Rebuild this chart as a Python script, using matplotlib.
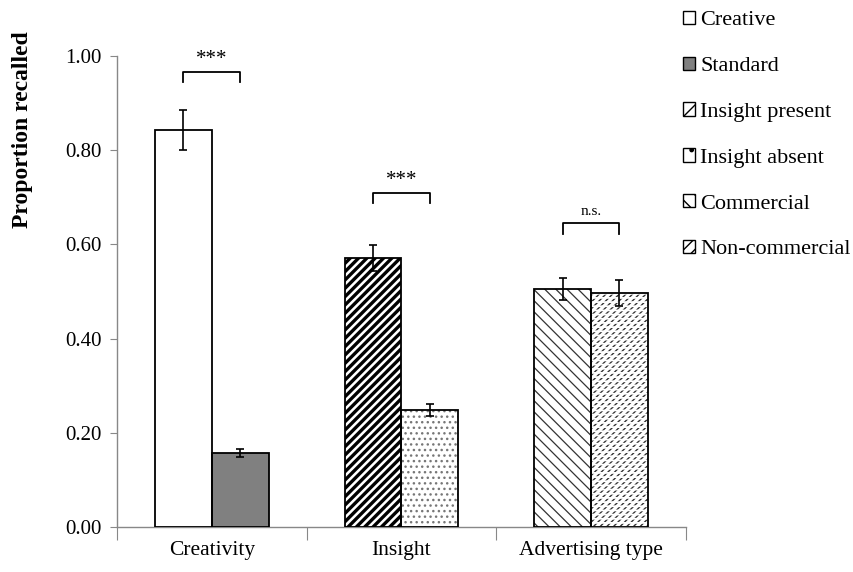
import matplotlib
matplotlib.use("Agg")
import matplotlib.pyplot as plt
from matplotlib.patches import Patch

plt.rcParams["font.family"] = ["Liberation Serif", "DejaVu Serif"]

categories = ["Creativity", "Insight", "Advertising type"]
conditions = ["Creative", "Standard", "Insight present", "Insight absent",
              "Commercial", "Non-commercial"]
means = [0.843, 0.157, 0.571, 0.248, 0.505, 0.497]
errors = [0.042, 0.008, 0.028, 0.012, 0.024, 0.027]
groups = [0, 0, 1, 1, 2, 2]
sig_labels = ["***", "***", "n.s."]
bracket_tops = [0.966, 0.709, 0.645]
y_ticks = [0.0, 0.2, 0.4, 0.6, 0.8, 1.0]

# fill / hatch style per condition: (face, hatch, hatch colour, hatch width, legend hatch)
styles = [
    ("white", "", "black", 1.0, ""),
    ("#808080", "", "black", 1.0, ""),
    ("white", "////", "black", 2.4, "//"),
    ("white", "...", "#777777", 1.0, "."),
    ("white", "\\\\\\", "#333333", 0.9, "\\\\"),
    ("white", "/////", "#333333", 1.0, "///"),
]

WIDTH = 0.3


def set_hatch_lw(patch, lw):
    if hasattr(patch, "set_hatch_linewidth"):
        patch.set_hatch_linewidth(lw)


fig = plt.figure(figsize=(8.54, 5.72), dpi=100)
ax = fig.add_axes([0.137, 0.079, 0.666, 0.823])

xs = []
for i, g in enumerate(groups):
    offset = -WIDTH / 2 if i % 2 == 0 else WIDTH / 2
    xs.append(g + offset)

for i, (x, m) in enumerate(zip(xs, means)):
    face, hatch, hcol, hlw, _ = styles[i]
    plt.rcParams["hatch.linewidth"] = hlw
    bar = ax.bar(x, m, WIDTH, color=face, edgecolor=hcol, hatch=hatch,
                 linewidth=0, zorder=2)[0]
    set_hatch_lw(bar, hlw)
    if conditions[i] == "Non-commercial":
        # break the diagonals into short dashes
        plt.rcParams["hatch.linewidth"] = 1.3
        cut = ax.bar(x, m, WIDTH, color="none", edgecolor="white",
                     hatch="----", linewidth=0, zorder=2.5)[0]
        set_hatch_lw(cut, 1.3)
plt.rcParams["hatch.linewidth"] = 1.0

# outlines
ax.bar(xs, means, WIDTH, color="none", edgecolor="black", linewidth=1.3,
       zorder=3)
ax.errorbar(xs, means, yerr=errors, fmt="none", ecolor="black",
            elinewidth=1.2, capsize=3, capthick=1.2, zorder=4)

# significance brackets
for g, label, top in zip(range(3), sig_labels, bracket_tops):
    x0 = g - WIDTH / 2
    x1 = g + WIDTH / 2
    ax.plot([x0, x0, x1, x1], [top - 0.022, top, top, top - 0.022],
            color="black", linewidth=1.3, zorder=4, clip_on=False)
    if label == "n.s.":
        ax.text(g, top + 0.012, label, ha="center", va="bottom", fontsize=11)
    else:
        ax.text(g, top + 0.006, label, ha="center", va="bottom",
                fontsize=15)

ax.set_xlim(-0.5, 2.5)
ax.set_ylim(0, 1.0)
ax.set_yticks(y_ticks)
ax.set_yticklabels([f"{t:.2f}" for t in y_ticks], fontsize=15)
ax.set_xticks([-0.5, 0.5, 1.5, 2.5])
ax.set_xticklabels([])
ax.set_xticks([0, 1, 2], minor=True)
ax.set_xticklabels(categories, minor=True, fontsize=15.5)
ax.tick_params(axis="x", which="major", length=9, color="#888888",
               direction="out")
ax.tick_params(axis="x", which="minor", length=0, pad=10)
ax.tick_params(axis="y", length=5, color="#888888", pad=6)

for side in ["top", "right"]:
    ax.spines[side].set_visible(False)
for side in ["left", "bottom"]:
    ax.spines[side].set_color("#888888")
    ax.spines[side].set_linewidth(1.0)

ax.set_ylabel("Proportion recalled", fontsize=17, fontweight="bold")
ax.yaxis.set_label_coords(-0.148, 0.843)

handles = []
for i, name in enumerate(conditions):
    face, hatch, hcol, hlw, leg_hatch = styles[i]
    handles.append(Patch(facecolor=face, edgecolor="black", hatch=leg_hatch,
                         linewidth=1.0, label=name))
fig.legend(handles=handles, loc="upper left", bbox_to_anchor=(0.776, 1.016),
           frameon=False, fontsize=16, labelspacing=1.18,
           handlelength=0.55, handleheight=0.55, handletextpad=0.25)

fig.savefig("out.png", dpi=100)
